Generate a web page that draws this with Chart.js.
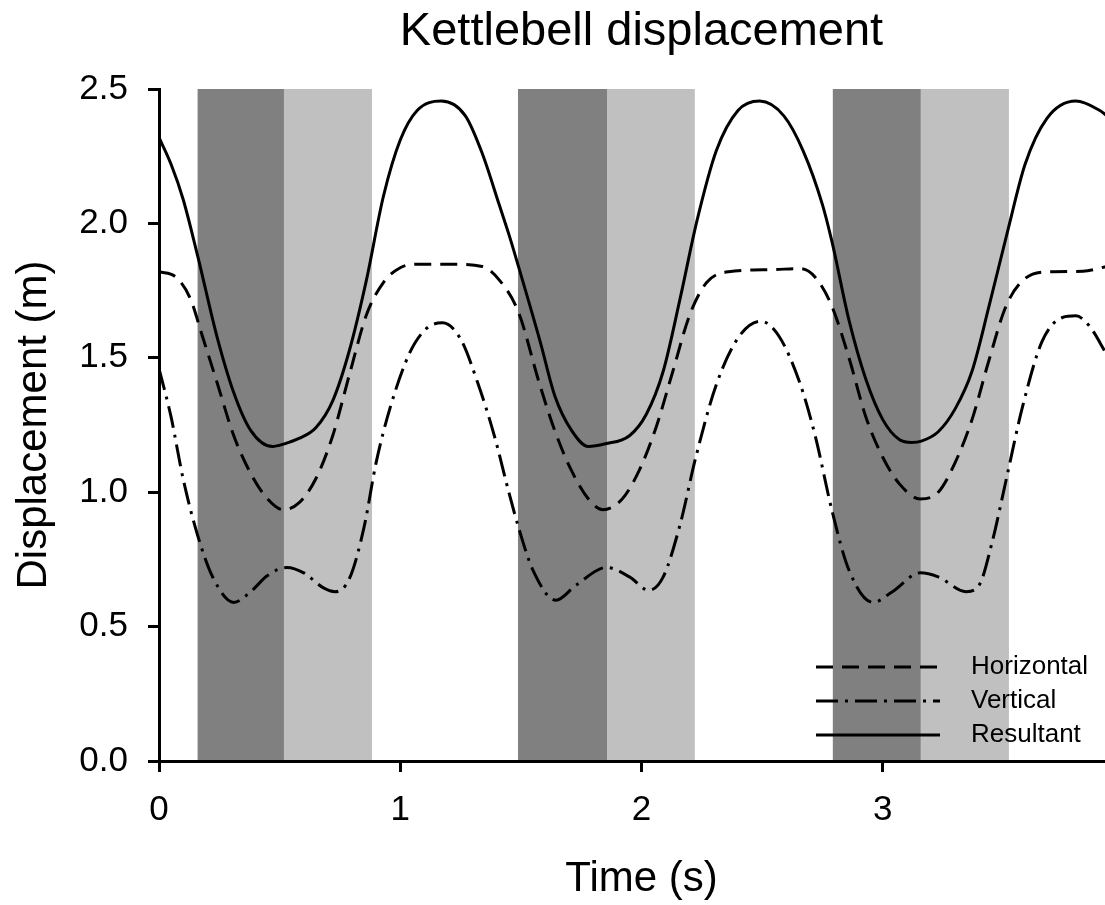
<!DOCTYPE html>
<html>
<head>
<meta charset="utf-8">
<title>Kettlebell displacement</title>
<script src="https://cdn.jsdelivr.net/npm/chart.js@4.4.1/dist/chart.umd.min.js"></script>
<style>
    html, body { margin: 0; padding: 0; overflow: hidden; background: #fff; }
    canvas { display: block; }
</style>
</head>
<body>
<canvas id="chart" width="1124" height="905"></canvas>
<script>
// Data (time in s, displacement in m)
const horizontalTime = [0.00, 0.07, 0.13, 0.18, 0.24, 0.31, 0.38, 0.45, 0.515, 0.58, 0.65, 0.72, 0.79, 0.86, 0.93, 1.00, 1.07, 1.21, 1.34, 1.41,
    1.49, 1.575, 1.64, 1.71, 1.78, 1.84, 1.92, 1.99, 2.06, 2.13, 2.20, 2.27, 2.36, 2.54, 2.66, 2.72,
    2.79, 2.86, 2.93, 3.00, 3.07, 3.155, 3.23, 3.30, 3.37, 3.44, 3.51, 3.59, 3.69, 3.83, 3.93];
const horizontalValues = [1.82, 1.80, 1.72, 1.58, 1.41, 1.21, 1.07, 0.975, 0.935, 0.96, 1.05, 1.21, 1.44, 1.66, 1.78, 1.835, 1.848, 1.848, 1.84, 1.79,
    1.67, 1.41, 1.23, 1.08, 0.975, 0.935, 0.975, 1.08, 1.24, 1.45, 1.66, 1.78, 1.82, 1.828, 1.832, 1.80,
    1.69, 1.50, 1.28, 1.13, 1.03, 0.975, 1.00, 1.11, 1.27, 1.49, 1.69, 1.795, 1.82, 1.822, 1.84];

const verticalTime = [0.00, 0.05, 0.10, 0.16, 0.225, 0.31, 0.38, 0.45, 0.53, 0.60, 0.68, 0.73, 0.79, 0.85, 0.90, 0.96, 1.04, 1.11, 1.175, 1.25, 1.32, 1.39, 1.45,
    1.49, 1.55, 1.645, 1.73, 1.855, 1.95, 2.03, 2.09, 2.16, 2.225, 2.31, 2.405, 2.495, 2.57, 2.655, 2.72,
    2.79, 2.86, 2.96, 3.04, 3.155, 3.23, 3.345, 3.40, 3.455, 3.51, 3.58, 3.66, 3.745, 3.80, 3.855, 3.93];
const verticalValues = [1.46, 1.28, 1.05, 0.84, 0.68, 0.59, 0.63, 0.69, 0.72, 0.70, 0.645, 0.63, 0.68, 0.87, 1.11, 1.32, 1.52, 1.61, 1.63, 1.57, 1.41, 1.21, 1.00,
    0.87, 0.71, 0.598, 0.655, 0.72, 0.685, 0.635, 0.685, 0.88, 1.13, 1.40, 1.58, 1.636, 1.58, 1.41, 1.21,
    0.93, 0.71, 0.59, 0.63, 0.70, 0.685, 0.63, 0.655, 0.82, 1.04, 1.32, 1.56, 1.65, 1.656, 1.62, 1.51];

const resultantTime = [0.00, 0.05, 0.10, 0.16, 0.24, 0.31, 0.38, 0.47, 0.52, 0.58, 0.65, 0.72, 0.79, 0.86, 0.93, 1.00, 1.07, 1.17, 1.27, 1.34, 1.41,
    1.45, 1.49, 1.58, 1.64, 1.71, 1.78, 1.85, 1.95, 2.02, 2.09, 2.16, 2.23, 2.31, 2.40, 2.49, 2.59, 2.67, 2.75,
    2.79, 2.86, 2.93, 3.00, 3.07, 3.12, 3.16, 3.23, 3.30, 3.37, 3.44, 3.52, 3.59, 3.68, 3.80, 3.90, 3.93];
const resultantValues = [2.32, 2.22, 2.09, 1.88, 1.58, 1.37, 1.23, 1.17, 1.18, 1.20, 1.24, 1.34, 1.53, 1.79, 2.10, 2.31, 2.42, 2.455, 2.40, 2.26, 2.07,
    1.96, 1.84, 1.56, 1.36, 1.23, 1.17, 1.18, 1.21, 1.29, 1.45, 1.72, 2.01, 2.27, 2.42, 2.455, 2.40, 2.27, 2.07,
    1.93, 1.64, 1.42, 1.27, 1.195, 1.185, 1.19, 1.225, 1.31, 1.45, 1.69, 1.98, 2.22, 2.39, 2.455, 2.42, 2.40];

// Shaded phases [start, end] in s
const darkBands = [[0.16, 0.518], [1.488, 1.857], [2.793, 3.158]];
const lightBands = [[0.518, 0.883], [1.857, 2.221], [3.158, 3.523]];

const xTicks = [0, 1, 2, 3];
const yTicks = [0.0, 0.5, 1.0, 1.5, 2.0, 2.5];

const FONT = "'Liberation Sans', Arial, sans-serif";

function toPoints(times, values) {
    return times.map((t, i) => ({ x: t, y: values[i] }));
}

// Grey phase bands, drawn under axes and curves
const bandsPlugin = {
    id: 'bands',
    beforeDraw(chart) {
        const { ctx, scales: { x, y } } = chart;
        const top = y.getPixelForValue(yTicks[yTicks.length - 1]);
        const bottom = y.getPixelForValue(0);
        ctx.save();
        const paint = (bands, color) => {
            ctx.fillStyle = color;
            bands.forEach(([a, b]) => {
                const x0 = x.getPixelForValue(a);
                const x1 = x.getPixelForValue(b);
                ctx.fillRect(x0, top, x1 - x0, bottom - top);
            });
        };
        paint(darkBands, '#808080');
        paint(lightBands, '#c0c0c0');
        ctx.restore();
    }
};

// Title centred over the plot area
const titlePlugin = {
    id: 'plotTitle',
    afterDraw(chart) {
        const { ctx, chartArea } = chart;
        ctx.save();
        ctx.font = `47px ${FONT}`;
        ctx.fillStyle = '#000';
        ctx.textAlign = 'center';
        ctx.textBaseline = 'alphabetic';
        ctx.fillText('Kettlebell displacement', (chartArea.left + chartArea.right) / 2, 45);
        ctx.restore();
    }
};

// Legend inside the lower right corner of the plot
const legendPlugin = {
    id: 'innerLegend',
    afterDatasetsDraw(chart) {
        const { ctx, chartArea } = chart;
        const x1 = chartArea.right - 308;
        const x2 = x1 + 124;
        ctx.save();
        chart.data.datasets.forEach((ds, i) => {
            const yy = chartArea.bottom - 94 + i * 34;
            ctx.strokeStyle = '#000';
            ctx.lineWidth = 3;
            ctx.setLineDash(ds.borderDash || []);
            ctx.beginPath();
            ctx.moveTo(x1, yy);
            ctx.lineTo(x2, yy);
            ctx.stroke();
            ctx.setLineDash([]);
            ctx.font = `26px ${FONT}`;
            ctx.fillStyle = '#000';
            ctx.textAlign = 'left';
            ctx.textBaseline = 'middle';
            ctx.fillText(ds.label, x1 + 155, yy);
        });
        ctx.restore();
    }
};

const lineStyle = {
    borderColor: '#000',
    borderWidth: 3,
    pointRadius: 0,
    cubicInterpolationMode: 'monotone',
    fill: false
};

const axisCommon = {
    border: { display: true, color: '#000', width: 3 },
    grid: { drawOnChartArea: false, drawTicks: true, tickLength: 11, tickWidth: 3, tickColor: '#000' }
};

new Chart(document.getElementById('chart').getContext('2d'), {
    type: 'line',
    data: {
        datasets: [
            { ...lineStyle, label: 'Horizontal', data: toPoints(horizontalTime, horizontalValues), borderDash: [17, 9] },
            { ...lineStyle, label: 'Vertical', data: toPoints(verticalTime, verticalValues), borderDash: [22, 7, 3, 7] },
            { ...lineStyle, label: 'Resultant', data: toPoints(resultantTime, resultantValues) }
        ]
    },
    options: {
        responsive: false,
        animation: false,
        layout: { padding: { top: 89, right: 0, bottom: 0, left: 0 } },
        plugins: {
            legend: { display: false },
            title: { display: false },
            tooltip: { enabled: false }
        },
        scales: {
            x: {
                ...axisCommon,
                type: 'linear',
                min: 0,
                max: 4,
                afterBuildTicks: (scale) => { scale.ticks = xTicks.concat([4]).map(v => ({ value: v })); },
                ticks: {
                    color: '#000',
                    padding: 17,
                    font: { family: FONT, size: 35 },
                    maxRotation: 0,
                    callback: (v) => (xTicks.includes(v) ? String(v) : '')
                },
                title: {
                    display: true,
                    text: 'Time (s)',
                    color: '#000',
                    font: { family: FONT, size: 42 },
                    padding: { top: 0, bottom: 0 }
                },
                afterFit: (scale) => {
                    scale.height = 144;
                    scale.paddingLeft = 0;
                    scale.paddingRight = 0;
                }
            },
            y: {
                ...axisCommon,
                type: 'linear',
                min: 0,
                max: 2.5,
                afterBuildTicks: (scale) => { scale.ticks = yTicks.map(v => ({ value: v })); },
                ticks: {
                    color: '#000',
                    padding: 20,
                    font: { family: FONT, size: 35 },
                    callback: (v) => v.toFixed(1)
                },
                title: {
                    display: true,
                    text: 'Displacement (m)',
                    color: '#000',
                    font: { family: FONT, size: 42 },
                    padding: { top: 9, bottom: 0 }
                },
                afterFit: (scale) => {
                    scale.width = 159;
                    scale.paddingTop = 0;
                    scale.paddingBottom = 0;
                }
            }
        }
    },
    plugins: [bandsPlugin, legendPlugin, titlePlugin]
});
</script>
</body>
</html>
